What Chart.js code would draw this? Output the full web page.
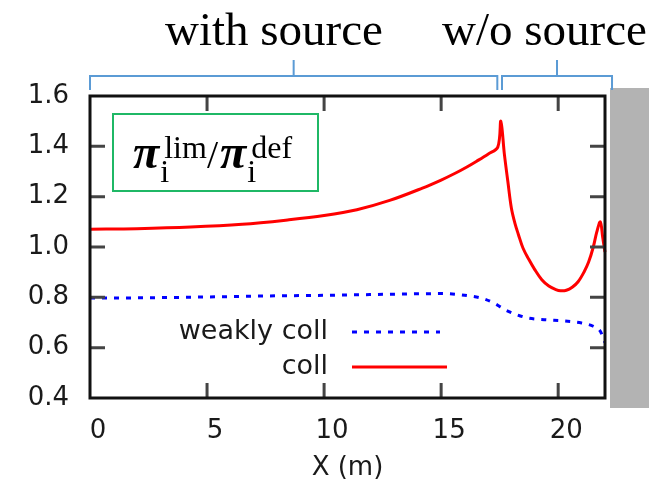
<!DOCTYPE html>
<html>
<head>
<meta charset="utf-8">
<script src="https://cdn.jsdelivr.net/npm/chart.js@4"></script>
<style>
  html, body { margin: 0; padding: 0; background: #fff; }
  #wrap { width: 664px; height: 498px; }
</style>
</head>
<body>
<div id="wrap"><canvas id="piChart" width="664" height="498"></canvas></div>
<script>
// data
const seriesNames = ['weakly coll', 'coll'];
const weakX = [0, 2, 4, 6, 8, 10, 12, 14, 15, 16, 16.8, 17.3, 17.7, 18.2, 18.7, 19.5, 20.2, 21.0, 21.5, 21.8, 22.0];
const weakY = [0.797, 0.798, 0.800, 0.803, 0.806, 0.808, 0.811, 0.814, 0.815, 0.808, 0.795, 0.775, 0.752, 0.732, 0.718, 0.711, 0.707, 0.698, 0.685, 0.665, 0.62];
const collX = [0, 2, 4.3, 6.5, 8.5, 10, 11.4, 12.8, 14.2, 15.0, 15.6, 16.1, 16.5, 17.0, 17.42, 17.55, 17.7, 17.85, 18.0, 18.15, 18.3, 18.5, 18.75, 19.0, 19.3, 19.6, 19.9, 20.1, 20.35, 20.6, 20.85, 21.1, 21.3, 21.5, 21.65, 21.8, 21.9, 22.0, 22.08];
const collY = [1.071, 1.073, 1.079, 1.090, 1.108, 1.125, 1.148, 1.185, 1.234, 1.266, 1.293, 1.318, 1.340, 1.369, 1.397, 1.50, 1.37, 1.26, 1.155, 1.095, 1.05, 0.995, 0.95, 0.91, 0.87, 0.845, 0.831, 0.826, 0.828, 0.84, 0.862, 0.90, 0.94, 1.0, 1.06, 1.10, 1.04, 0.98, 0.95];
const xTicks = [0, 5, 10, 15, 20];
const yTicks = [0.4, 0.6, 0.8, 1.0, 1.2, 1.4, 1.6];
const regionLabels = ['with source', 'w/o source'];
const regionSpans = [[0, 17.4], [17.6, 22.3]];

const sans = '"DejaVu Sans", sans-serif';
const serif = '"Liberation Serif", "Times New Roman", serif';

function toPoints(xs, ys) {
  return xs.map((v, i) => ({ x: v, y: ys[i] }));
}

// frame, inward ticks, legend, label box, region brackets, gray bar
const decorPlugin = {
  id: 'decor',
  beforeDraw(chart) {
    const ctx = chart.ctx;
    ctx.save();
    ctx.fillStyle = '#b3b3b3';
    ctx.fillRect(610, 88, 39, 320);
    ctx.restore();
  },
  afterDatasetsDraw(chart) {
    const { ctx, chartArea: a, scales: { x, y } } = chart;
    ctx.save();

    // inward ticks on all four sides
    ctx.strokeStyle = '#444';
    ctx.lineWidth = 3;
    ctx.beginPath();
    xTicks.forEach(v => {
      const px = x.getPixelForValue(v);
      if (px <= a.left + 2 || px >= a.right - 2) return;
      ctx.moveTo(px, a.bottom); ctx.lineTo(px, a.bottom - 15);
      ctx.moveTo(px, a.top); ctx.lineTo(px, a.top + 15);
    });
    yTicks.forEach(v => {
      const py = y.getPixelForValue(v);
      if (py <= a.top + 2 || py >= a.bottom - 2) return;
      ctx.moveTo(a.left, py); ctx.lineTo(a.left + 15, py);
      ctx.moveTo(a.right, py); ctx.lineTo(a.right - 15, py);
    });
    ctx.stroke();

    // frame
    ctx.strokeStyle = '#111';
    ctx.lineWidth = 3;
    ctx.strokeRect(a.left, a.top, a.right - a.left, a.bottom - a.top);

    // legend
    ctx.font = '27px ' + sans;
    ctx.textAlign = 'right';
    ctx.textBaseline = 'middle';
    const legRows = [{ y: 332, x2: 440 }, { y: 367, x2: 447 }];
    chart.data.datasets.forEach((ds, i) => {
      const r = legRows[i];
      ctx.fillStyle = '#1a1a1a';
      ctx.fillText(ds.label, 328, r.y);
      ctx.strokeStyle = ds.borderColor;
      ctx.lineWidth = ds.borderWidth;
      ctx.setLineDash(ds.borderDash || []);
      ctx.beginPath();
      ctx.moveTo(352, r.y);
      ctx.lineTo(r.x2, r.y);
      ctx.stroke();
      ctx.setLineDash([]);
    });

    // ratio label box
    ctx.strokeStyle = '#1fb866';
    ctx.lineWidth = 2;
    ctx.strokeRect(113, 114, 205, 77);
    ctx.fillStyle = '#000';
    ctx.textAlign = 'left';
    ctx.textBaseline = 'alphabetic';
    const base = 168;
    const big = 'italic bold 48px ' + serif;
    const small = '32px ' + serif;
    let cx = 133;
    const piWithScripts = (sup) => {
      ctx.font = big;
      ctx.fillText('\u03c0', cx, base);
      cx += ctx.measureText('\u03c0').width;
      ctx.font = small;
      ctx.fillText('i', cx + 1, base + 14);
      ctx.fillText(sup, cx + 5, base - 10);
      cx += 5 + ctx.measureText(sup).width;
    };
    piWithScripts('lim');
    ctx.font = '40px ' + serif;
    ctx.fillText('/', cx, base);
    cx += ctx.measureText('/').width + 2;
    piWithScripts('def');

    // region brackets and captions
    ctx.strokeStyle = '#5b9bd5';
    ctx.lineWidth = 2;
    regionSpans.forEach(([s, e]) => {
      const x1 = x.getPixelForValue(s);
      const x2 = x.getPixelForValue(e);
      const xm = (x1 + x2) / 2;
      ctx.beginPath();
      ctx.moveTo(x1, 90); ctx.lineTo(x1, 76); ctx.lineTo(x2, 76); ctx.lineTo(x2, 90);
      ctx.moveTo(xm, 76); ctx.lineTo(xm, 60);
      ctx.stroke();
    });
    ctx.fillStyle = '#000';
    ctx.font = '47px ' + serif;
    ctx.textAlign = 'left';
    ctx.fillText(regionLabels[0], 165, 45);
    ctx.fillText(regionLabels[1], 442, 45);

    ctx.restore();
  }
};

new Chart(document.getElementById('piChart'), {
  type: 'line',
  data: {
    datasets: [{
      label: seriesNames[0],
      data: toPoints(weakX, weakY),
      borderColor: '#0000ff',
      borderWidth: 3,
      borderDash: [5, 7],
      pointRadius: 0,
      cubicInterpolationMode: 'monotone',
      fill: false
    }, {
      label: seriesNames[1],
      data: toPoints(collX, collY),
      borderColor: '#ff0000',
      borderWidth: 3,
      pointRadius: 0,
      tension: 0.35,
      borderJoinStyle: 'round',
      clip: 4,
      fill: false
    }]
  },
  options: {
    responsive: false,
    animation: false,
    events: [],
    layout: { padding: { left: 0, top: 96, right: 59, bottom: 0 } },
    scales: {
      x: {
        type: 'linear',
        min: 0,
        max: 22,
        afterBuildTicks: s => { s.ticks = xTicks.map(v => ({ value: v })); },
        afterFit: s => { s.height = 100; },
        grid: { display: false, drawTicks: false },
        border: { display: false },
        ticks: {
          padding: 18,
          labelOffset: 8,
          color: '#1a1a1a',
          font: { family: sans, size: 26 },
          callback: v => String(v)
        },
        title: {
          display: true,
          text: 'X (m)',
          color: '#1a1a1a',
          font: { family: sans, size: 26 },
          padding: { top: 0, bottom: 14 }
        }
      },
      y: {
        min: 0.4,
        max: 1.6,
        afterBuildTicks: s => { s.ticks = yTicks.map(v => ({ value: v })); },
        afterFit: s => { s.width = 90; },
        grid: { display: false, drawTicks: false },
        border: { display: false },
        ticks: {
          padding: 21,
          color: '#1a1a1a',
          font: { family: sans, size: 26 },
          callback: v => Number(v).toFixed(1)
        }
      }
    },
    plugins: {
      legend: { display: false },
      tooltip: { enabled: false }
    }
  },
  plugins: [decorPlugin]
});
</script>
</body>
</html>
